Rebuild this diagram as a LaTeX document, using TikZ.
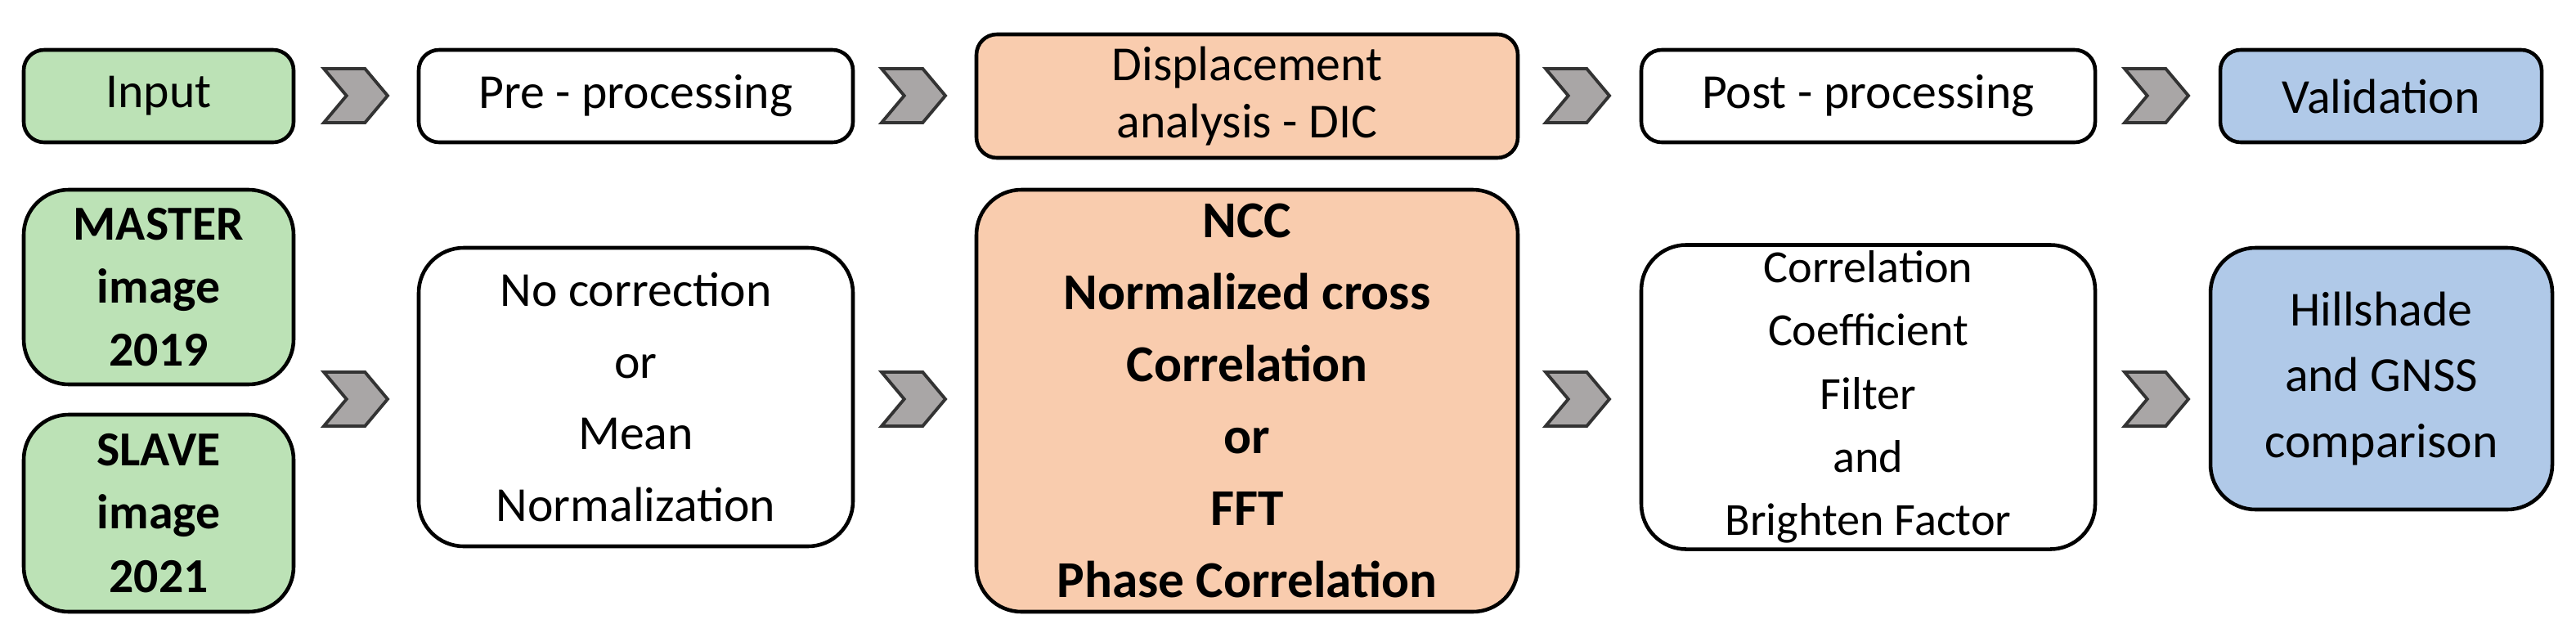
\documentclass[tikz,border=0pt]{standalone}
\usepackage{fontspec}
\setmainfont{Carlito}
\usetikzlibrary{shapes.symbols}
\definecolor{ingreen}{HTML}{BCE2B6}
\definecolor{dicorange}{HTML}{F9CCAE}
\definecolor{valblue}{HTML}{B0C9E8}
\definecolor{chevgrey}{HTML}{A9A6A6}
\tikzstyle{stepblock} = [draw, line width=1.3pt, rounded corners=0.25cm, align=center, inner sep=2pt, font=\fontsize{17}{24}\selectfont]
\tikzstyle{bigblock} = [stepblock, rounded corners=0.55cm]
\tikzstyle{chevron} = [draw=black!80, line width=1.1pt, fill=chevgrey, signal, signal to=east, signal from=west, signal pointer angle=100, minimum width=0.78cm, minimum height=0.66cm, inner sep=0pt]

\begin{document}
\begin{tikzpicture}
      \useasboundingbox (0, 0) rectangle (31.5, 7.84);
      \node[stepblock, fill=ingreen, minimum width=3.3cm, minimum height=1.13cm] (input) at (1.94, 6.665) {Input};
      \node[stepblock, minimum width=5.31cm, minimum height=1.13cm] (pre) at (7.775, 6.665) {Pre - processing};
      \node[stepblock, fill=dicorange, minimum width=6.62cm, minimum height=1.51cm] (dic) at (15.25, 6.665) {Displacement\\[-4pt]analysis - DIC};
      \node[stepblock, minimum width=5.55cm, minimum height=1.13cm] (post) at (22.845, 6.665) {Post - processing};
      \node[stepblock, fill=valblue, minimum width=3.93cm, minimum height=1.13cm] (valid) at (29.115, 6.665) {Validation};
      \node[chevron] (c1) at (4.35, 6.67) {};
      \node[chevron] (c2) at (11.17, 6.67) {};
      \node[chevron] (c3) at (19.29, 6.67) {};
      \node[chevron] (c4) at (26.37, 6.67) {};

      \node[bigblock, fill=ingreen, minimum width=3.3cm, minimum height=2.38cm, font=\fontsize{17}{22}\bfseries\selectfont] (master) at (1.94, 4.33) {MASTER\\image\\2019};
      \node[bigblock, fill=ingreen, minimum width=3.3cm, minimum height=2.41cm, font=\fontsize{17}{22}\bfseries\selectfont] (slave) at (1.94, 1.565) {SLAVE\\image\\2021};
      \node[bigblock, minimum width=5.31cm, minimum height=3.65cm, font=\fontsize{17}{25}\selectfont] (nocorr) at (7.775, 2.985) {No correction\\or\\Mean\\Normalization};
      \node[bigblock, fill=dicorange, minimum width=6.62cm, minimum height=5.16cm, font=\fontsize{18}{25}\bfseries\selectfont] (ncc) at (15.25, 2.94) {NCC\\Normalized cross\\Correlation\\or\\FFT\\Phase Correlation};
      \node[bigblock, minimum width=5.55cm, minimum height=3.65cm, font=\fontsize{16}{22}\selectfont] (filter) at (22.845, 2.985) {Correlation\\Coefficient\\Filter\\and\\Brighten Factor};
      \node[bigblock, fill=valblue, minimum width=4.18cm, minimum height=3.2cm, font=\fontsize{17}{23}\selectfont] (gnss) at (29.12, 3.21) {Hillshade\\and GNSS\\comparison};
      \node[chevron] (c5) at (4.35, 2.96) {};
      \node[chevron] (c6) at (11.17, 2.96) {};
      \node[chevron] (c7) at (19.29, 2.96) {};
      \node[chevron] (c8) at (26.37, 2.96) {};
\end{tikzpicture}
\end{document}
